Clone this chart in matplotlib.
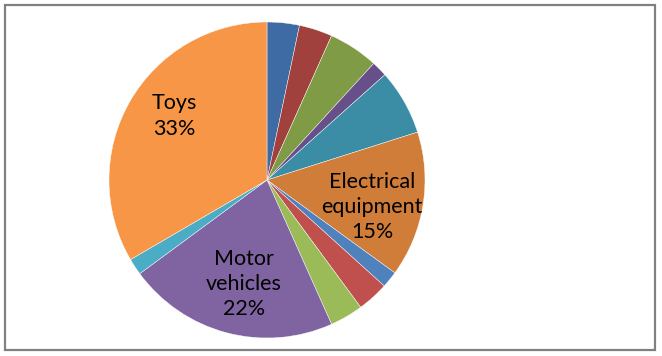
import matplotlib
matplotlib.use("Agg")
import matplotlib.pyplot as plt
from matplotlib.patches import Rectangle

# Data (clockwise from 12 o'clock)
categories = ["", "", "", "", "", "Electrical\nequipment", "", "", "", "Motor\nvehicles", "", "Toys"]
values = [3.3, 3.4, 5.1, 1.6, 6.7, 14.9, 1.7, 3.2, 3.4, 21.6, 1.7, 33.4]
colors = ["#3E6BA3", "#A0413E", "#7F9B45", "#674F8A", "#3B8DA5", "#D07D3A",
          "#4F81BD", "#C0504D", "#9BBB59", "#8064A2", "#4BACC6", "#F79646"]
label_pos = {5: (0.665, -0.172), 9: (-0.146, -0.658), 11: (-0.585, 0.405)}

W, H = 662, 356
fig = plt.figure(figsize=(W / 100, H / 100), dpi=100)
fig.patch.set_facecolor("white")

cx, cy, r = 267, 180, 158
ax = fig.add_axes([(cx - r) / W, (H - cy - r) / H, 2 * r / W, 2 * r / H])
ax.pie(values, colors=colors, startangle=90, counterclock=False,
       wedgeprops=dict(edgecolor="white", linewidth=0.3))
ax.set_xlim(-1, 1)
ax.set_ylim(-1, 1)
ax.axis("off")

for i, (x, y) in label_pos.items():
    txt = f"{categories[i]}\n{round(values[i])}%"
    ax.text(x, y, txt, ha="center", va="center", fontsize=15.5, family="Lato",
            color="#000000", linespacing=1.33)

fig.patches.append(Rectangle((4.5 / W, (H - 350) / H), (655 - 4.5) / W, (350 - 4.5) / H,
                             transform=fig.transFigure, fill=False,
                             edgecolor="#808080", linewidth=1.6))

fig.savefig("out.png", dpi=100, facecolor="white")
